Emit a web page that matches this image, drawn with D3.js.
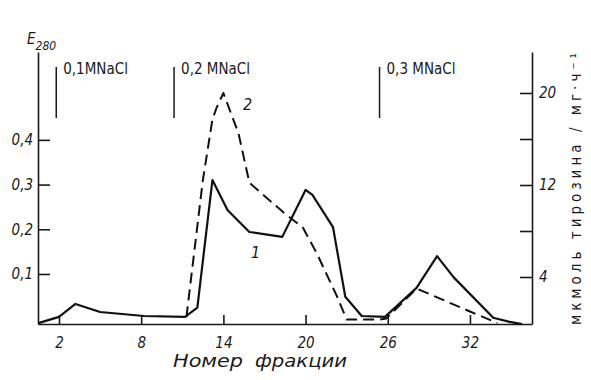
<!DOCTYPE html>
<html lang="ru">
<head>
    <meta charset="UTF-8">
    <title>E280 / тирозин</title>
    <script src="https://d3js.org/d3.v7.min.js"></script>
    <style>
        body { margin: 0; background: #fff; }
        svg text { font-family: "DejaVu Sans Condensed", "Liberation Sans Narrow", "DejaVu Sans", sans-serif; fill: #1a1a1a; }
        .axis path, .axis line { stroke: #1a1a1a; stroke-width: 1.6px; }
        .axis text { font-size: 15px; font-style: italic; }
        .curve { fill: none; stroke: #111; stroke-width: 2.2px; stroke-linejoin: round; }
        .dashed { stroke-dasharray: 11,6; stroke-width: 2px; }
    </style>
</head>
<body>
    <svg width="591" height="380"></svg>

    <script>
        // curve 1 - E280 (left axis)
        const fractions1 = [0.5, 2, 3.2, 5, 8.2, 11.2, 12.1, 13.2, 14.3, 15.9, 18.3, 20, 20.5, 22, 22.9, 24.1, 25.8, 28.1, 29.6, 30.8, 33.7, 34.9, 35.8];
        const e280 = [-0.01, 0.004, 0.033, 0.015, 0.006, 0.004, 0.025, 0.31, 0.243, 0.194, 0.183, 0.288, 0.277, 0.205, 0.049, 0.006, 0.004, 0.069, 0.14, 0.093, 0.002, -0.007, -0.012];

        // curve 2 - мкмоль тирозина (right axis)
        const fractions2 = [11.3, 12.5, 13.2, 13.5, 14.0, 15.1, 15.9, 18.4, 19.8, 20.8, 22.3, 23.0, 25.4, 25.9, 28.1, 32.0, 34.0];
        const tyrosine = [0.5, 12.4, 17.7, 18.7, 20.0, 16.5, 12.2, 9.6, 8.3, 6.1, 2.3, 0.3, 0.3, 0.4, 3.0, 1.0, 0];

        // salt steps
        const saltFractions = [1.8, 10.4, 25.4];
        const saltLabels = ["0,1MNaCl", "0,2 MNaCl", "0,3 MNaCl"];

        const xTicks = [2, 8, 14, 20, 26, 32];
        const leftTicks = [0.1, 0.2, 0.3, 0.4];
        const rightTicks = [4, 8, 12, 16, 20];
        const rightLabels = [4, 12, 20];

        const svg = d3.select("svg");

        const x = d3.scaleLinear().domain([0.467, 36.53]).range([38, 532]);
        const yL = d3.scaleLinear().domain([-0.0119, 0.5966]).range([324, 52]);
        const yR = d3.scaleLinear().domain([-0.087, 23.565]).range([324, 52]);

        // axes
        svg.append("g")
            .attr("class", "axis")
            .attr("transform", "translate(0,324)")
            .call(d3.axisBottom(x).tickValues(xTicks).tickSizeInner(-9).tickSizeOuter(0).tickPadding(13));

        svg.append("g")
            .attr("class", "axis")
            .attr("transform", "translate(38,0)")
            .call(d3.axisLeft(yL).tickValues(leftTicks).tickSizeInner(-12).tickSizeOuter(0).tickPadding(5)
                .tickFormat(d => String(d).replace(".", ",")));

        svg.append("g")
            .attr("class", "axis")
            .attr("transform", "translate(532,0)")
            .call(d3.axisRight(yR).tickValues(rightTicks).tickSizeInner(-12).tickSizeOuter(0).tickPadding(7)
                .tickFormat(d => rightLabels.includes(d) ? d : ""));

        svg.selectAll(".axis text").attr("fill", "#1a1a1a").style("font-size", "15px");

        // curves
        const line1 = d3.line().x(d => x(d[0])).y(d => yL(d[1]));
        const line2 = d3.line().x(d => x(d[0])).y(d => yR(d[1]));

        svg.append("path")
            .datum(d3.zip(fractions1, e280))
            .attr("class", "curve")
            .attr("d", line1);

        svg.append("path")
            .datum(d3.zip(fractions2, tyrosine))
            .attr("class", "curve dashed")
            .attr("d", line2);

        // salt step markers
        saltFractions.forEach((f, i) => {
            svg.append("line")
                .attr("x1", x(f)).attr("x2", x(f))
                .attr("y1", 67).attr("y2", 118)
                .attr("stroke", "#1a1a1a").attr("stroke-width", 1.5);
            svg.append("text")
                .attr("x", x(f) + 7).attr("y", 74)
                .style("font-size", "15px")
                .text(saltLabels[i]);
        });

        // curve numbers
        svg.append("text").attr("x", 243).attr("y", 110)
            .style("font-size", "16px").style("font-style", "italic").text("2");
        svg.append("text").attr("x", 251).attr("y", 258)
            .style("font-size", "16px").style("font-style", "italic").text("1");

        // left title E280
        const eTitle = svg.append("text").attr("x", 27).attr("y", 44)
            .style("font-size", "15px").style("font-style", "italic");
        eTitle.append("tspan").text("E");
        eTitle.append("tspan").attr("dy", 6).style("font-size", "12px").text("280");

        // x title
        svg.append("text")
            .attr("x", 173).attr("y", 367)
            .attr("textLength", 70).attr("lengthAdjust", "spacingAndGlyphs")
            .style("font-size", "17px").style("font-style", "italic")
            .text("Номер");
        svg.append("text")
            .attr("x", 255).attr("y", 367)
            .attr("textLength", 92).attr("lengthAdjust", "spacingAndGlyphs")
            .style("font-size", "17px").style("font-style", "italic")
            .text("фракции");

        // right title
        svg.append("text")
            .attr("transform", "translate(581,325) rotate(-90)")
            .attr("textLength", 272)
            .attr("lengthAdjust", "spacing")
            .style("font-size", "15px")
            .text("мкмоль тирозина / мг·ч⁻¹");
    </script>
</body>
</html>
